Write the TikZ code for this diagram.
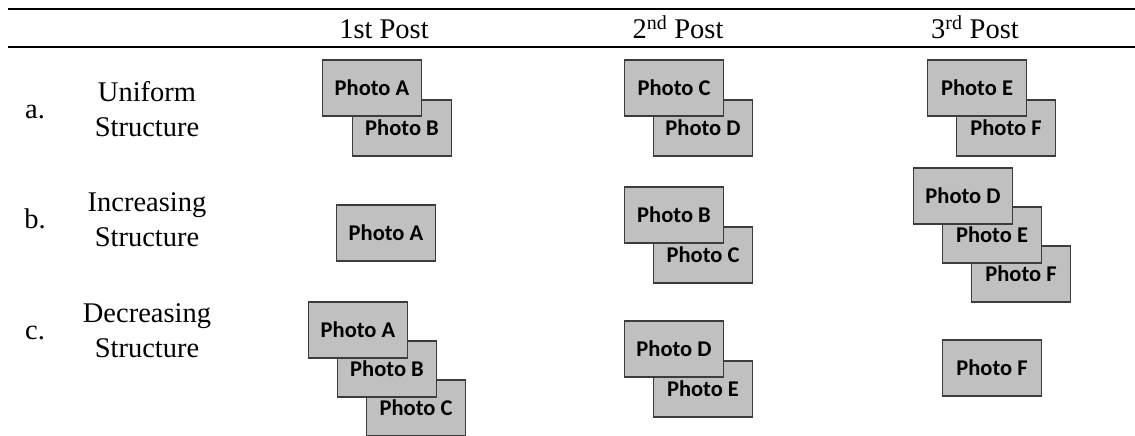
\documentclass[tikz,border=0pt]{standalone}
\usepackage{fontspec}
\setmainfont{Liberation Serif}
\newfontfamily\photofont{Carlito}
\definecolor{boxfill}{RGB}{192,192,192}
\definecolor{boxedge}{RGB}{60,60,60}
\begin{document}
\begin{tikzpicture}[x=1pt,y=-1pt,
  photo/.style={rectangle, draw=boxedge, fill=boxfill, line width=1.1pt,
    minimum width=99pt, minimum height=56pt, inner sep=0pt,
    font=\photofont\bfseries\fontsize{22.5}{26}\selectfont},
  hdr/.style={anchor=base, inner sep=0pt, font=\fontsize{28.5}{34}\selectfont},
  rowlbl/.style={anchor=base, inner sep=0pt, font=\fontsize{28.5}{34}\selectfont}]
\useasboundingbox (0,0) rectangle (1135,436);
% rules
\coordinate (r1l) at (8,9); \coordinate (r1r) at (1135,9);
\coordinate (r2l) at (8,47); \coordinate (r2r) at (1135,47);
\draw[line width=2pt] (r1l) -- (r1r);
\draw[line width=2pt] (r2l) -- (r2r);
% headers
\node[hdr] (h1) at (384,39) {1st Post};
\node[hdr] (h2) at (678,39) {2\textsuperscript{nd} Post};
\node[hdr] (h3) at (975,39) {3\textsuperscript{rd} Post};
% row labels
\node[rowlbl] (la) at (35,118) {a.};
\node[rowlbl] (ua) at (147,101) {Uniform};
\node[rowlbl] (sa) at (147,136) {Structure};
\node[rowlbl] (lb) at (35,228) {b.};
\node[rowlbl] (ub) at (147,211) {Increasing};
\node[rowlbl] (sb) at (147,246) {Structure};
\node[rowlbl] (lc) at (35,339) {c.};
\node[rowlbl] (uc) at (147,322) {Decreasing};
\node[rowlbl] (sc) at (147,357) {Structure};
% row a
\node[photo] (aB) at (402,128) {Photo B};
\node[photo] (aA) at (372,88) {Photo A};
\node[photo] (aD) at (703,128) {Photo D};
\node[photo] (aC) at (674,88) {Photo C};
\node[photo] (aF) at (1006,128) {Photo F};
\node[photo] (aE) at (977,88) {Photo E};
% row b
\node[photo] (bA) at (386,233) {Photo A};
\node[photo] (bC) at (703,255) {Photo C};
\node[photo] (bB) at (674,215) {Photo B};
\node[photo] (bF) at (1021,274) {Photo F};
\node[photo] (bE) at (992,235) {Photo E};
\node[photo] (bD) at (963,196) {Photo D};
% row c
\node[photo] (cC) at (416,408) {Photo C};
\node[photo] (cB) at (387,369) {Photo B};
\node[photo] (cA) at (358,330) {Photo A};
\node[photo] (cE) at (703,389) {Photo E};
\node[photo] (cD) at (674,349) {Photo D};
\node[photo] (cF) at (992,368) {Photo F};
\end{tikzpicture}
\end{document}
